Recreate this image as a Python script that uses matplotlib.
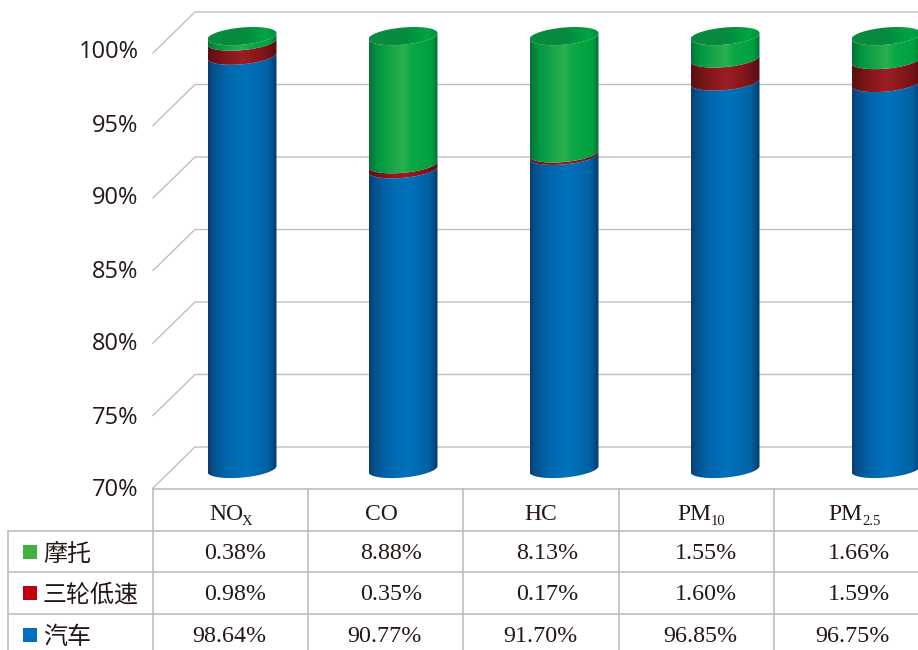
"""Stacked cylinder chart of vehicle emission shares, with a data table underneath."""

import numpy as np
import matplotlib
matplotlib.use("Agg")
import matplotlib.pyplot as plt
from matplotlib.colors import LinearSegmentedColormap
from matplotlib.patches import PathPatch, Rectangle
from matplotlib.path import Path

pollutants = ["NO", "CO", "HC", "PM", "PM"]
pollutant_subs = ["X", "", "", "10", "2.5"]
car = [98.64, 90.77, 91.70, 96.85, 96.75]
tricycle = [0.98, 0.35, 0.17, 1.60, 1.59]
motorcycle = [0.38, 8.88, 8.13, 1.55, 1.66]
series_names = ["摩托", "三轮低速", "汽车"]
y_ticks = [70, 75, 80, 85, 90, 95, 100]

W, H = 918, 650
PX_PER_PCT = 14.43
BASE_PX = 469
CENTER_X = 242
STEP_X = 161
HALF_W = 34.5
MINOR = 8.6
SKEW = 3.0

GRID = "#bfbfbf"
INK = "#231815"
SERIF = "Liberation Serif"
CJK = ["Noto Sans CJK SC", "DejaVu Sans"]

side_maps = [
    LinearSegmentedColormap.from_list("blue", [
        (0, "#0b3a70"), (0.07, "#04508c"), (0.28, "#0067ae"),
        (0.55, "#0072bc"), (0.87, "#0062a4"), (1, "#073a6c")]),
    LinearSegmentedColormap.from_list("red", [
        (0, "#5a0f14"), (0.2, "#7d1519"), (0.5, "#9c1e24"),
        (0.8, "#7f161b"), (1, "#560e13")]),
    LinearSegmentedColormap.from_list("green", [
        (0, "#06703a"), (0.12, "#009640"), (0.5, "#2bb04f"),
        (0.62, "#0aa845"), (0.9, "#00a03f"), (1, "#07703a")]),
]
top_map = LinearSegmentedColormap.from_list("top", [
    (0, "#0a8a40"), (0.55, "#058c3e"), (0.85, "#00a544"), (1, "#008f3e")])

fig = plt.figure(figsize=(W / 100, H / 100), dpi=100)

# pixel-space layer for the walls and the table
ax_px = fig.add_axes([0, 0, 1, 1])
ax_px.set_xlim(0, W)
ax_px.set_ylim(H, 0)
ax_px.axis("off")

# category / percent layer for the cylinders
ax = fig.add_axes([0, 0, 1, 1])
ax.patch.set_alpha(0)
ax.axis("off")
ax.set_xlim(-CENTER_X / STEP_X, (W - CENTER_X) / STEP_X)
ax.set_ylim(70 - (H - BASE_PX) / PX_PER_PCT, 70 + BASE_PX / PX_PER_PCT)

half_w = HALF_W / STEP_X
minor = MINOR / PX_PER_PCT
skew = SKEW / PX_PER_PCT


def ring(i, level, t):
    """Points on the tilted ellipse of cylinder i at a given percent level."""
    x = i + half_w * np.cos(t)
    y = level - minor * np.sin(t) + skew * np.cos(t)
    return x, y


def shaded(path, cmap, x0, x1, y0, y1, z):
    clip = PathPatch(path, transform=ax.transData, fc="none", ec="none")
    ax.add_patch(clip)
    grad = np.linspace(0, 1, 256).reshape(1, -1)
    im = ax.imshow(grad, cmap=cmap, extent=(x0, x1, y0, y1), aspect="auto",
                   zorder=z, interpolation="bilinear")
    im.set_clip_path(clip)


def draw_cylinder(i, values):
    t_front = np.linspace(np.pi, 0, 80)
    start = 70.0
    level = 0.0
    for s, value in enumerate(values):
        level += value
        xb, yb = ring(i, start, t_front)
        xt, yt = ring(i, level, t_front)
        verts = np.vstack([np.column_stack([xb, yb]),
                           np.column_stack([xt[::-1], yt[::-1]])])
        shaded(Path(np.vstack([verts, verts[0]])), side_maps[s],
               i - half_w, i + half_w, start - 2, level + 2, 3 + s)
        start = level
    t_all = np.linspace(0, 2 * np.pi, 160)
    xc, yc = ring(i, level, t_all)
    shaded(Path(np.column_stack([xc, yc])), top_map,
           i - half_w, i + half_w, level - 2, level + 2, 7)


for i in range(len(pollutants)):
    draw_cylinder(i, [car[i], tricycle[i], motorcycle[i]])

# back wall, floor diagonals and percent labels
for tick in y_ticks:
    back = 447 - (tick - 70) * 14.5
    front = back + 41
    ax_px.plot([153, 195, W], [front, back, back], color=GRID, lw=1.0, zorder=1)
    ax_px.text(138.5, 490.5 - (tick - 70) * 14.6, f"{tick}%", ha="right",
               va="center", fontsize=17, family="Open Sans", color=INK)

# table rules
col_x = [153, 308, 463, 619, 774]
row_y = [489, 530.5, 572, 613.5]
ax_px.plot([153, W], [row_y[0], row_y[0]], color=GRID, lw=1.2)
for y in row_y[1:]:
    ax_px.plot([8, W], [y, y], color=GRID, lw=1.2)
ax_px.plot([8, 8], [row_y[1], H], color=GRID, lw=1.2)
for x in col_x:
    ax_px.plot([x, x], [row_y[0], H], color=GRID, lw=1.2)

# header row, subscripts set by hand so they stay small
header_x = [209, 365, 524, 677, 828]
sub_x = [242, 0, 0, 711, 862]
for x, sx, name, sub in zip(header_x, sub_x, pollutants, pollutant_subs):
    ax_px.text(x, 520.5, name, ha="left", va="baseline", fontsize=17,
               family=SERIF, color=INK)
    if sub:
        ax_px.text(sx, 525, sub, ha="left", va="baseline", fontsize=10.5,
                   family=SERIF, color=INK)

# series rows with legend swatches
swatches = ["#3fb13c", "#c00010", "#0070c0"]
rows = [motorcycle, tricycle, car]
row_centers = [552, 592.5, 635]
value_right = [266, 422, 578, 737, 890]
for name, color, values, yc in zip(series_names, swatches, rows, row_centers):
    ax_px.add_patch(Rectangle((23, yc - 7), 14, 14, fc=color, ec="none"))
    ax_px.text(43, yc + 2, name, ha="left", va="center", fontsize=17.3,
               family=CJK, color=INK)
    for x, v in zip(value_right, values):
        ax_px.text(x, yc + 1.5, f"{v:.2f}%", ha="right", va="center",
                   fontsize=17.3, family=SERIF, color=INK)

fig.savefig("out.png", dpi=100)
